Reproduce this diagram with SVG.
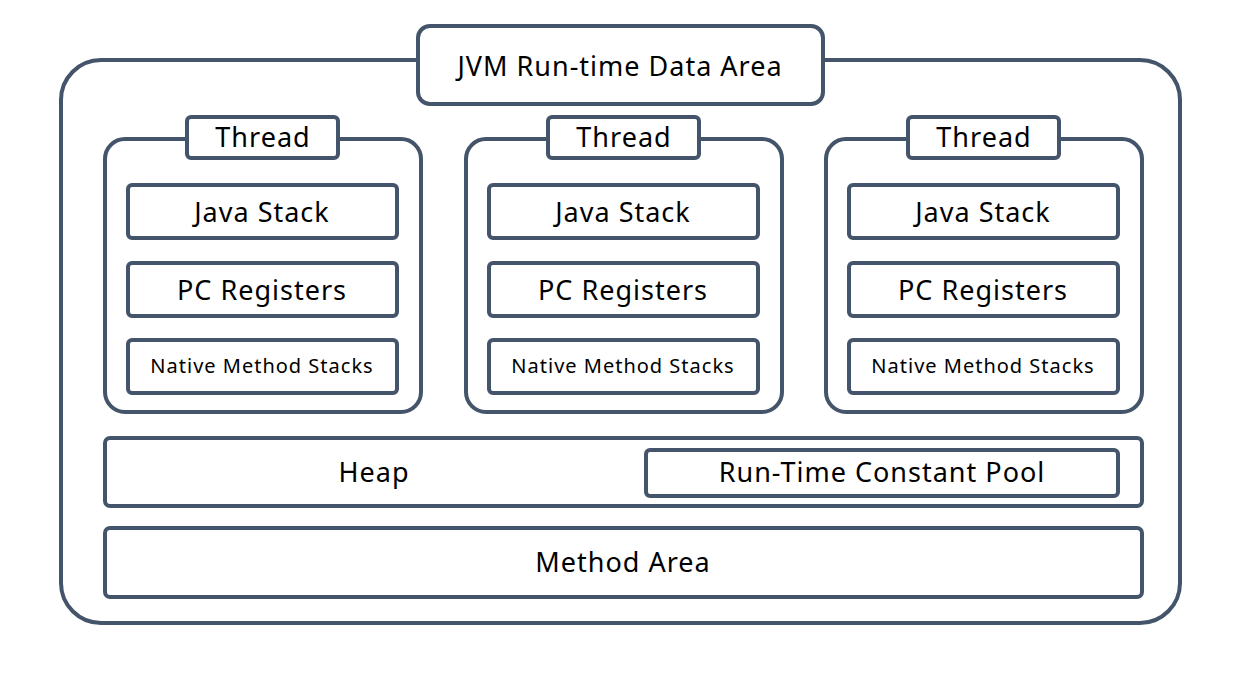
<svg xmlns="http://www.w3.org/2000/svg" width="1248" height="683" viewBox="0 0 1248 683">
<style>
.b{fill:#fff;stroke:#44546A;stroke-width:4}
.t{font-family:"Noto Sans","Open Sans",sans-serif;fill:#000;text-anchor:middle;dominant-baseline:central}
.l{font-size:27px;letter-spacing:1px}
.s{font-size:20px;letter-spacing:1px}
</style>
<rect width="1248" height="683" fill="#fff"/>
<g id="outer"><rect class="b" x="61" y="60" width="1119" height="563" rx="40"/></g>
<g id="title"><rect class="b" x="418" y="26" width="405" height="78" rx="12"/><text class="t l" x="620" y="65">JVM Run-time Data Area</text></g>
<g id="thread1">
<rect class="b" x="105" y="139" width="316" height="273" rx="20"/>
<rect class="b" x="187" y="117" width="151" height="41" rx="4"/><text class="t l" x="263" y="136">Thread</text>
<rect class="b" x="128" y="185" width="269" height="53" rx="4"/><text class="t l" x="262" y="211">Java Stack</text>
<rect class="b" x="128" y="263" width="269" height="53" rx="4"/><text class="t l" x="262" y="289">PC Registers</text>
<rect class="b" x="128" y="340" width="269" height="53" rx="4"/><text class="t s" x="262" y="365">Native Method Stacks</text>
</g>
<g id="thread2" transform="translate(361,0)">
<rect class="b" x="105" y="139" width="316" height="273" rx="20"/>
<rect class="b" x="187" y="117" width="151" height="41" rx="4"/><text class="t l" x="263" y="136">Thread</text>
<rect class="b" x="128" y="185" width="269" height="53" rx="4"/><text class="t l" x="262" y="211">Java Stack</text>
<rect class="b" x="128" y="263" width="269" height="53" rx="4"/><text class="t l" x="262" y="289">PC Registers</text>
<rect class="b" x="128" y="340" width="269" height="53" rx="4"/><text class="t s" x="262" y="365">Native Method Stacks</text>
</g>
<g id="thread3" transform="translate(721,0)">
<rect class="b" x="105" y="139" width="316" height="273" rx="20"/>
<rect class="b" x="187" y="117" width="151" height="41" rx="4"/><text class="t l" x="263" y="136">Thread</text>
<rect class="b" x="128" y="185" width="269" height="53" rx="4"/><text class="t l" x="262" y="211">Java Stack</text>
<rect class="b" x="128" y="263" width="269" height="53" rx="4"/><text class="t l" x="262" y="289">PC Registers</text>
<rect class="b" x="128" y="340" width="269" height="53" rx="4"/><text class="t s" x="262" y="365">Native Method Stacks</text>
</g>
<g id="heap"><rect class="b" x="105" y="438" width="1037" height="68" rx="5"/><text class="t l" x="374" y="471">Heap</text></g>
<g id="rtcp"><rect class="b" x="646" y="450" width="472" height="46" rx="4"/><text class="t l" x="882" y="471">Run-Time Constant Pool</text></g>
<g id="method"><rect class="b" x="105" y="528" width="1037" height="69" rx="5"/><text class="t l" x="623" y="561">Method Area</text></g>
<g id="connectors"></g>
</svg>
